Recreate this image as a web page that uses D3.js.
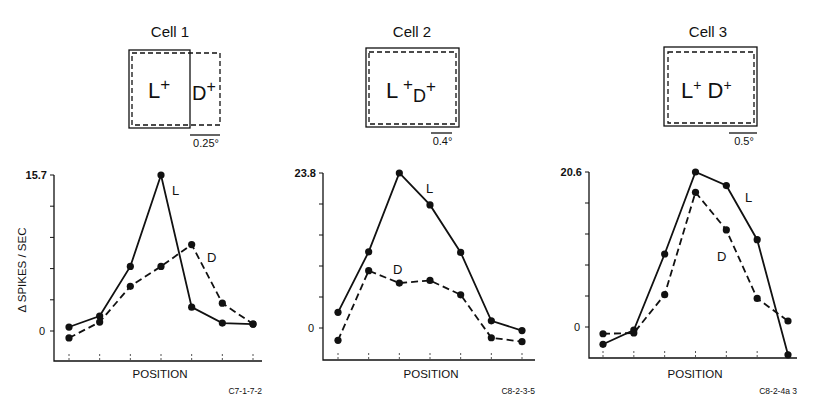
<!DOCTYPE html>
<html><head><meta charset="utf-8">
<script src="https://cdn.jsdelivr.net/npm/d3@7"></script>
<style>body{margin:0;background:#fff}text{font-family:"Liberation Sans",Arial,sans-serif;fill:#111}</style>
</head><body>
<script>
// data
var cells = ["Cell 1", "Cell 2", "Cell 3"];
var maxRate = [15.7, 23.8, 20.6];
var codes = ["C7-1-7-2", "C8-2-3-5", "C8-2-4a 3"];
var degrees = ["0.25°", "0.4°", "0.5°"];
var positions = [1, 2, 3, 4, 5, 6, 7];
var lightVals = [
  [0.4, 1.5, 6.5, 15.7, 2.4, 0.8, 0.7],
  [2.4, 11.7, 23.8, 18.9, 11.6, 1.1, -0.4],
  [-2.3, -0.4, 9.7, 20.6, 18.8, 11.6, -3.7]
];
var darkVals = [
  [-0.7, 0.9, 4.5, 6.5, 8.7, 2.8, 0.7],
  [-1.9, 8.8, 6.9, 7.3, 5.1, -1.5, -2.1],
  [-0.9, -0.8, 4.3, 17.9, 12.9, 3.8, 0.8]
];

var svg = d3.select("body").append("svg").attr("width", 826).attr("height", 404);

// panel geometry
var panels = [
  {ax: 54, x0: 69, x1: 253, xe: 262, top: 175, zero: 331, bot: 361,
   box: [129, 50, 190, 128], dbox: [132, 53, 220, 125], bar: [190, 220, 135], tx: 170,
   lL: [172, 195], lD: [207, 262]},
  {ax: 323, x0: 338, x1: 522, xe: 535, top: 173, zero: 328, bot: 360,
   box: [366, 48, 459, 127], dbox: [369, 52, 456, 124], bar: [431, 452, 133], tx: 412,
   lL: [426, 193], lD: [393, 274]},
  {ax: 589, x0: 603, x1: 788, xe: 797, top: 172, zero: 327, bot: 358,
   box: [664, 47, 757, 126], dbox: [668, 52, 754, 123], bar: [729, 757, 133], tx: 708,
   lL: [745, 202], lD: [717, 261]}
];

panels.forEach(function(p, i){
  var g = svg.append("g");
  var x = d3.scalePoint().domain(positions).range([p.x0, p.x1]);
  var y = d3.scaleLinear().domain([0, maxRate[i]]).range([p.zero, p.top]);

  // title + receptive field boxes
  g.append("text").attr("x", p.tx).attr("y", 37).attr("text-anchor", "middle")
    .style("font-size", "15px").text(cells[i]);
  g.append("rect").attr("x", p.box[0]).attr("y", p.box[1])
    .attr("width", p.box[2]-p.box[0]).attr("height", p.box[3]-p.box[1])
    .attr("fill", "none").attr("stroke", "#111").attr("stroke-width", 1.3);
  g.append("rect").attr("x", p.dbox[0]).attr("y", p.dbox[1])
    .attr("width", p.dbox[2]-p.dbox[0]).attr("height", p.dbox[3]-p.dbox[1])
    .attr("fill", "none").attr("stroke", "#111").attr("stroke-width", 1.3)
    .attr("stroke-dasharray", "5,3");
  g.append("line").attr("x1", p.bar[0]).attr("x2", p.bar[1]).attr("y1", p.bar[2]).attr("y2", p.bar[2])
    .attr("stroke", "#111").attr("stroke-width", 1.3);
  g.append("text").attr("x", (p.bar[0]+p.bar[1])/2 + 1).attr("y", p.bar[2]+12)
    .attr("text-anchor", "middle").style("font-size", "11px").text(degrees[i]);

  var bt = g.append("text").style("font-size", "22px").attr("y", 98);
  if(i == 0){
    g.append("text").attr("x", 148).attr("y", 98).style("font-size", "22px")
      .html('L<tspan dy="-8" font-size="17">+</tspan>');
    g.append("text").attr("x", 192).attr("y", 100).style("font-size", "20px")
      .html('D<tspan dy="-8" font-size="16">+</tspan>');
  } else if(i == 1){
    bt.attr("x", 386).html('L<tspan dy="-8" font-size="17"> +</tspan><tspan dy="12" font-size="18">D</tspan><tspan dy="-10" font-size="17">+</tspan>');
  } else {
    bt.attr("x", 681).html('L<tspan dy="-8" font-size="14">+</tspan><tspan dy="8"> D</tspan><tspan dy="-8" font-size="14">+</tspan>');
  }

  // axes
  g.append("path").attr("d", "M" + p.ax + "," + p.top + "V" + p.bot + "H" + p.xe)
    .attr("fill", "none").attr("stroke", "#111").attr("stroke-width", 1.3);
  g.selectAll(".yt").data(d3.range(6)).enter().append("line")
    .attr("x1", p.ax - 4).attr("x2", p.ax)
    .attr("y1", function(d){ return y(maxRate[i]*d/5); })
    .attr("y2", function(d){ return y(maxRate[i]*d/5); })
    .attr("stroke", "#111");
  g.selectAll(".xt").data(positions).enter().append("line")
    .attr("x1", function(d){ return x(d); }).attr("x2", function(d){ return x(d); })
    .attr("y1", p.bot - 7).attr("y2", p.bot)
    .attr("stroke", "#555").attr("stroke-dasharray", "2,2");
  g.append("text").attr("x", p.ax - 7).attr("y", y(maxRate[i]) + 4).attr("text-anchor", "end")
    .style("font-size", "11px").style("font-weight", "bold").text(maxRate[i]);
  g.append("text").attr("x", p.ax - 9).attr("y", y(0) + 4).attr("text-anchor", "end")
    .style("font-size", "11px").text("0");
  g.append("text").attr("x", (p.ax + p.xe)/2 + 2).attr("y", 378).attr("text-anchor", "middle")
    .style("font-size", "11.5px").text("POSITION");
  g.append("text").attr("x", p.xe).attr("y", 394).attr("text-anchor", "end")
    .style("font-size", "8.5px").text(codes[i]);

  // curves
  var line = d3.line().x(function(d, j){ return x(positions[j]); }).y(function(d){ return y(d); });
  g.append("path").datum(darkVals[i]).attr("d", line).attr("fill", "none")
    .attr("stroke", "#111").attr("stroke-width", 1.8).attr("stroke-dasharray", "7,4");
  g.append("path").datum(lightVals[i]).attr("d", line).attr("fill", "none")
    .attr("stroke", "#111").attr("stroke-width", 1.8);
  [lightVals[i], darkVals[i]].forEach(function(s){
    g.selectAll(null).data(s).enter().append("circle")
      .attr("cx", function(d, j){ return x(positions[j]); })
      .attr("cy", function(d){ return y(d); }).attr("r", 3.6).attr("fill", "#111");
  });
  g.append("text").attr("x", p.lL[0]).attr("y", p.lL[1]).style("font-size", "13px").text("L");
  g.append("text").attr("x", p.lD[0]).attr("y", p.lD[1]).style("font-size", "13px").text("D");
});

svg.append("text").attr("transform", "translate(26,270) rotate(-90)")
  .attr("text-anchor", "middle").style("font-size", "11.5px").text("Δ SPIKES / SEC");
</script>
</body></html>
